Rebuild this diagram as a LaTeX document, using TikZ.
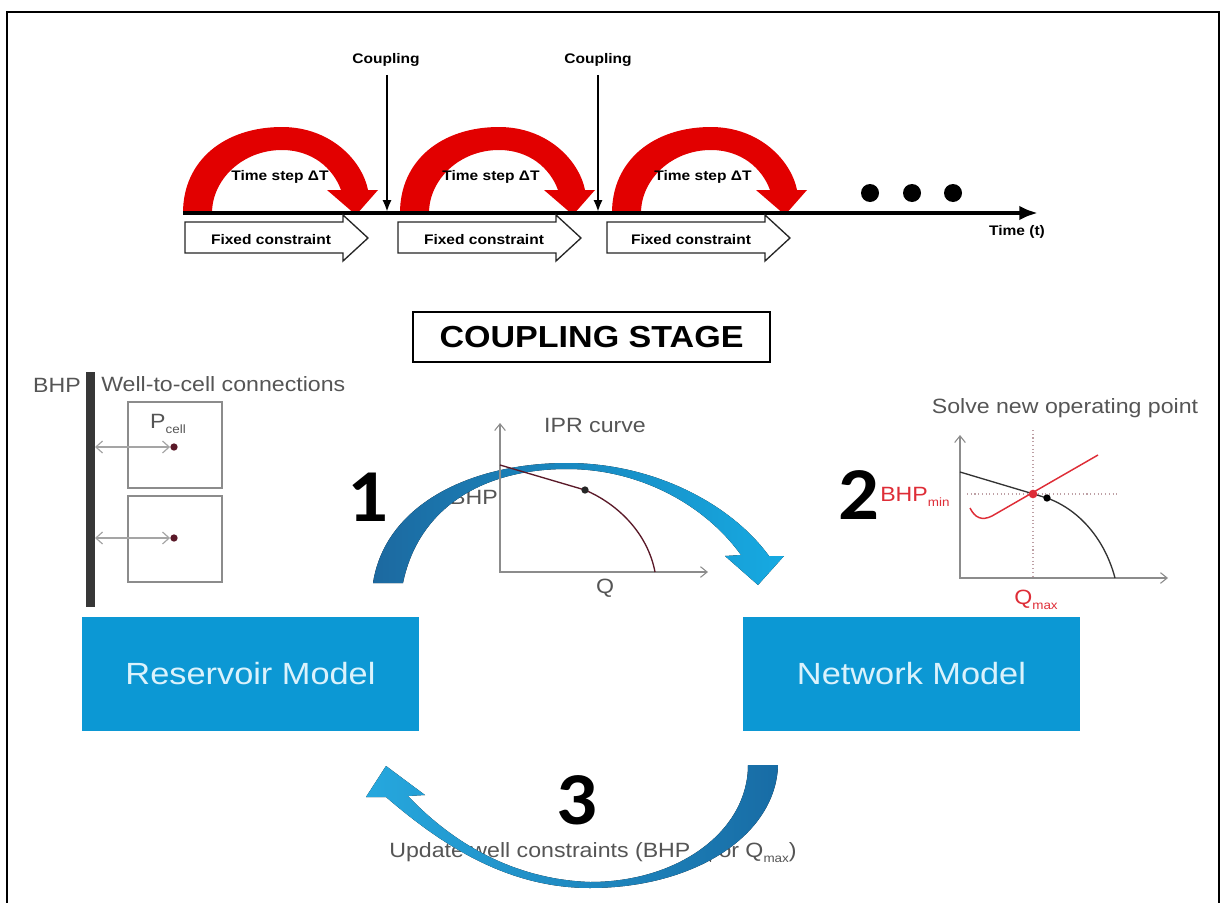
\documentclass[tikz,border=0pt]{standalone}
\usepackage{fontspec}
\setmainfont{Liberation Sans}[FakeStretch=1.12]
\newfontfamily\numfont{Carlito}[FakeStretch=1.08]
\usetikzlibrary{arrows.meta}
\definecolor{boxblue}{RGB}{12,152,212}
\definecolor{boxtext}{RGB}{218,242,252}
\definecolor{arcdark}{RGB}{28,105,160}
\definecolor{arclight}{RGB}{22,170,226}
\definecolor{arcbright}{RGB}{38,168,222}
\definecolor{arcdeep}{RGB}{24,108,165}
\definecolor{redarc}{RGB}{226,0,0}
\definecolor{txtgray}{RGB}{85,85,85}
\definecolor{axisgray}{RGB}{140,140,140}
\definecolor{lightarrow}{RGB}{165,165,165}
\definecolor{maroon}{RGB}{90,25,40}
\definecolor{curvered}{RGB}{222,45,55}
\definecolor{dotgray}{RGB}{190,160,165}
\definecolor{wellgray}{RGB}{55,55,55}
\newcommand\lsub[1]{\raisebox{-0.45ex}{\fontsize{9}{10}\selectfont #1}}
\begin{document}
\begin{tikzpicture}[x=0.75pt,y=-0.75pt,
  tlb/.style={inner sep=0pt, font=\bfseries\fontsize{10.4}{12}\selectfont},
  fixedtxt/.style={inner sep=0pt, font=\bfseries\fontsize{10.4}{12}\selectfont},
  gtxt/.style={inner sep=0pt, text=txtgray, font=\fontsize{15.5}{18}\selectfont},
  rtxt/.style={inner sep=0pt, text=curvered, font=\fontsize{15.5}{18}\selectfont},
  bignum/.style={inner sep=0pt, font=\numfont\bfseries\fontsize{56}{60}\selectfont},
  model/.style={fill=boxblue, text=boxtext, minimum width=252.75pt, minimum height=85.5pt, inner sep=0pt, font=\fontsize{23}{27}\selectfont},
  stagebox/.style={draw, line width=1.9pt, minimum width=267.75pt, minimum height=37.5pt, inner sep=0pt, font=\bfseries\fontsize{22.8}{26}\selectfont},
  cellbox/.style={draw=axisgray, line width=1pt, minimum width=70.5pt, minimum height=64.5pt, inner sep=0pt},
  dot/.style={circle, fill=maroon, minimum size=5.5pt, inner sep=0pt},
  bigdot/.style={circle, fill=black, minimum size=13.5pt, inner sep=0pt},
  axisline/.style={draw=axisgray, line width=0.8pt, {Straight Barb[length=5pt,width=8pt]}-{Straight Barb[length=5pt,width=8pt]}},
  fixedarrow/.style={draw=black!85, line width=1pt, fill=white},
  couplarrow/.style={line width=1.9pt, -{Latex[length=9pt,width=7pt]}}
]
\useasboundingbox (0,0) rectangle (1222,903);
% frame
\draw[line width=1.5pt] (7,903) -- (7,12) -- (1219,12) -- (1219,903);

% ---------- time line ----------
\foreach \dx in {0,217,429}{
  \begin{scope}[shift={(\dx,0)}]
  \fill[redarc] (183,213) .. controls (183,160) and (225,127) .. (282,127)
     .. controls (330,127) and (362,160) .. (368,190) -- (378,190) -- (356,215) -- (327,190) -- (341,190)
     .. controls (333,168) and (312,150) .. (282,150)
     .. controls (242,150) and (212,180) .. (212,213) -- cycle;
  \end{scope}
}
\coordinate (tstart) at (183,213);
\coordinate (tend) at (1038,213);
\draw[line width=3pt, -{Latex[length=14pt,width=11pt]}] (tstart) -- (tend);
\node[tlb] (tlabel) at (1017,232) {Time (t)};

\foreach \dx in {0,213,422}{
  \begin{scope}[shift={(\dx,0)}]
  \draw[fixedarrow] (185,222) -- (343,222) -- (343,215) -- (368,238) -- (343,261) -- (343,253) -- (185,253) -- cycle;
  \end{scope}
}
\node[fixedtxt] (fc1) at (271,240) {Fixed constraint};
\node[fixedtxt] (fc2) at (484,240) {Fixed constraint};
\node[fixedtxt] (fc3) at (691,240) {Fixed constraint};

\node[tlb] (ts1) at (280,177) {Time step ΔT};
\node[tlb] (ts2) at (491,177) {Time step ΔT};
\node[tlb] (ts3) at (703,177) {Time step ΔT};

\node[tlb] (cp1) at (386,60) {Coupling};
\node[tlb] (cp2) at (598,60) {Coupling};
\coordinate (cp1e) at (387,212);
\coordinate (cp2e) at (598,212);
\draw[couplarrow, shorten <=6pt] (cp1.south -| cp1e) -- (cp1e);
\draw[couplarrow, shorten <=6pt] (cp2.south) -- (cp2e);

\node[bigdot] (d1) at (870,193) {};
\node[bigdot] (d2) at (912,193) {};
\node[bigdot] (d3) at (953,193) {};

% ---------- coupling stage ----------
\node[stagebox] (stage) at (591.5,337) {COUPLING STAGE};

% ---------- left panel ----------
\fill[wellgray] (86,372) rectangle (95,607);
\node[gtxt] (bhpl) at (57,385) {BHP};
\node[gtxt, anchor=west] (wtc) at (101,384) {Well-to-cell connections};
\node[cellbox] (cellA) at (175,445) {};
\node[cellbox] (cellB) at (175,539) {};
\node[dot] (pA) at (174,447) {};
\node[dot] (pB) at (174,538) {};
\coordinate (wA) at (95,447);
\coordinate (wB) at (95,538);
\draw[draw=lightarrow, line width=0.9pt, {Straight Barb[length=5pt,width=9pt]}-{Straight Barb[length=5pt,width=9pt]}] (wA) -- (pA.west);
\draw[draw=lightarrow, line width=0.9pt, {Straight Barb[length=5pt,width=9pt]}-{Straight Barb[length=5pt,width=9pt]}] (wB) -- (pB.west);
\node[gtxt] (pcell) at (168,424) {P\lsub{cell}};

% ---------- IPR chart ----------
\node[gtxt] (iprt) at (595,425) {IPR curve};
\node[gtxt] (iprb) at (474,497) {BHP};
\node[gtxt] (iprq) at (605,588) {Q};
\node[bignum] (n1) at (368,497) {1};

\fill[left color=arcdark, right color=arclight]
  (373,583) .. controls (385,505) and (470,463) .. (567,463)
  .. controls (655,463) and (732,505) .. (769,556) -- (784,556) -- (758,585) -- (725,556) -- (741,555)
  .. controls (705,505) and (640,469) .. (567,469)
  .. controls (480,469) and (418,510) .. (403,583) -- cycle;

\coordinate (ipO) at (500,572);
\coordinate (ipY) at (500,423);
\coordinate (ipX) at (708,572);
\draw[axisline] (ipY) -- (ipO) -- (ipX);
\draw[draw=maroon, line width=1pt] (500,465) -- (585,490) .. controls (620,505) and (648,535) .. (655,572);
\node[dot, fill=black!85] (ipd) at (585,490) {};

% ---------- right chart ----------
\node[gtxt] (solve) at (1065,408) {Solve new operating point};
\node[bignum] (n2) at (859,495) {2};
\coordinate (rO) at (960,578);
\coordinate (rY) at (960,435);
\coordinate (rX) at (1168,578);
\draw[axisline] (rY) -- (rO) -- (rX);
\draw[draw=dotgray, line width=0.8pt, dotted] (967,494) -- (1117,494);
\draw[draw=dotgray, line width=0.8pt, dotted] (1033,430) -- (1033,578);
\draw[draw=black!80, line width=1pt] (960,472) -- (1047,498) .. controls (1080,510) and (1105,540) .. (1115,578);
\draw[draw=curvered, line width=1.1pt] (970,508) .. controls (975,518) and (982,521) .. (992,516) -- (1098,455);
\node[dot, fill=black] (bd) at (1047,498) {};
\node[dot, fill=curvered, minimum size=6.5pt] (rd) at (1033,494) {};
\node[rtxt, anchor=west] (bhpmin) at (880,497) {BHP\lsub{min}};
\node[rtxt] (qmax) at (1036,600) {Q\lsub{max}};

% ---------- models ----------
\node[model] (res) at (250.5,674) {Reservoir Model};
\node[model] (net) at (911.5,674) {Network Model};

% ---------- bottom ----------
\node[bignum] (n3) at (577,800) {3};
\node[gtxt] (upd) at (593,853) {Update well constraints (BHP\lsub{min} or Q\lsub{max})};
\fill[left color=arcbright, right color=arcdeep]
  (778,765) .. controls (776,835) and (695,888) .. (590,888)
  .. controls (510,888) and (445,848) .. (386,797) -- (366,797) -- (386,766) -- (425,795) -- (408,796)
  .. controls (445,835) and (505,879) .. (590,882)
  .. controls (680,882) and (748,830) .. (748,765) -- cycle;
\end{tikzpicture}
\end{document}
